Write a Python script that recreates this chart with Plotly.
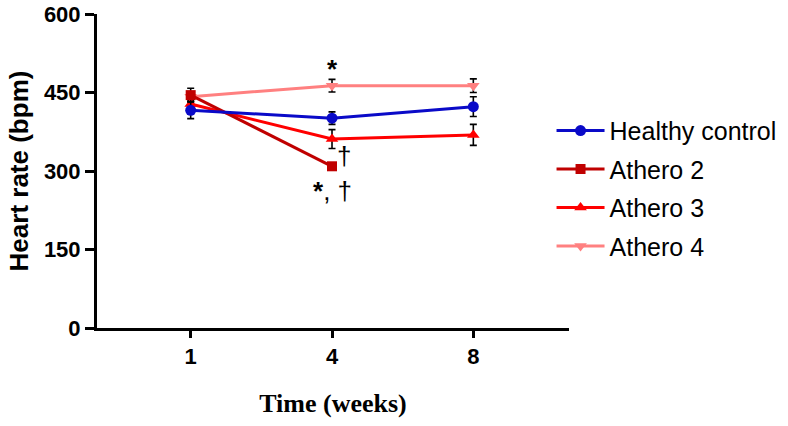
import plotly.graph_objects as go

weeks = ["1", "4", "8"]
xpos = [0, 1, 2]

series_names = ["Healthy control", "Athero 2", "Athero 3", "Athero 4"]
healthy = [416, 401, 423]
healthy_err = [16, 12, 19]
athero2 = [445, 309, None]
athero2_err = [13, 0, None]
athero3 = [428, 361, 369]
athero3_err = [10, 18, 20]
athero4 = [442, 463, 463]
athero4_err = [8, 12, 13]

values = [healthy, athero2, athero3, athero4]
errors = [healthy_err, athero2_err, athero3_err, athero4_err]
colors = ["#0a0ac8", "#c00000", "#ff0000", "#ff8080"]
symbols = ["circle", "square", "triangle-up", "triangle-down"]
sizes = [11, 10, 11, 11]

annot_text = ["<b>*</b>", "†", "<b>*</b>, †"]
annot_x = [1, 1.085, 1.0]
annot_y = [494, 328, 262]

fig = go.Figure()
for i in reversed(range(4)):
    fig.add_trace(go.Scatter(
        x=xpos, y=values[i], name=series_names[i], mode="lines+markers",
        line=dict(color=colors[i], width=3),
        marker=dict(symbol=symbols[i], size=sizes[i], color=colors[i]),
        error_y=dict(type="data", array=errors[i], color="black", thickness=1.6, width=3.5),
        legendrank=i + 1, legendgroup=series_names[i],
    ))

for t, ax, ay in zip(annot_text, annot_x, annot_y):
    fig.add_annotation(x=ax, y=ay, text=t, showarrow=False,
                       font=dict(family="Arial, Liberation Sans", size=26, color="black"))

fig.update_layout(
    width=788, height=426,
    margin=dict(l=97, r=219, t=14, b=98, autoexpand=False),
    plot_bgcolor="white", paper_bgcolor="white",
    font=dict(family="Arial, Liberation Sans", color="black"),
    legend=dict(x=0.963, y=0.445, yanchor="middle", xanchor="left",
                font=dict(size=25, family="Arial, Liberation Sans"),
                itemwidth=48,
                traceorder="grouped", tracegroupgap=3, bgcolor="rgba(0,0,0,0)"),
    showlegend=True,
)
fig.update_xaxes(
    range=[-0.663, 2.677], tickvals=xpos, ticktext=weeks,
    showline=True, linecolor="black", linewidth=3, showgrid=False, zeroline=False,
    ticks="outside", ticklen=7, tickwidth=3, tickcolor="black",
    tickfont=dict(size=22, weight="bold", family="Arial, Liberation Sans"),
    title=dict(text="Time (weeks)", font=dict(size=26, weight="bold", family="Times New Roman, Liberation Serif"), standoff=26),
)
fig.update_yaxes(
    range=[0, 600], tickvals=[0, 150, 300, 450, 600],
    showline=True, linecolor="black", linewidth=3, showgrid=False, zeroline=False,
    ticks="outside", ticklen=9, tickwidth=3, tickcolor="black",
    tickfont=dict(size=22, weight="bold", family="Arial, Liberation Sans"),
    title=dict(text="Heart rate (bpm)", font=dict(size=26, weight="bold", family="Arial, Liberation Sans"), standoff=8),
)

fig.write_html("out.html")
